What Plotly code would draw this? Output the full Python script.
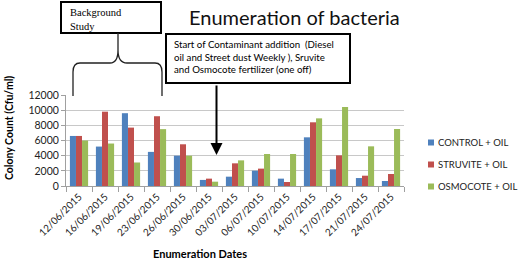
import plotly.graph_objects as go

dates = ["12/06/2015", "16/06/2015", "19/06/2015", "23/06/2015", "26/06/2015",
         "30/06/2015", "03/07/2015", "06/07/2015", "10/07/2015", "14/07/2015",
         "17/07/2015", "21/07/2015", "24/07/2015"]
control_oil = [6600, 5200, 9600, 4500, 4000, 800, 1230, 2020, 970, 6420, 2200, 1050, 660]
struvite_oil = [6600, 9800, 7700, 9200, 5500, 970, 2990, 2290, 530, 8400, 4040, 1360, 1580]
osmocote_oil = [6000, 5600, 3100, 7500, 4000, 570, 3380, 4220, 4220, 8920, 10420, 5230, 7520]
series_names = ["CONTROL + OIL", "STRUVITE + OIL", "OSMOCOTE + OIL"]
colors = ["#4F81BD", "#C0504D", "#9BBB59"]

W, H = 520, 267
L, R, T, B = 66, 116, 95, 81
PW, PH = W - L - R, H - T - B


def px(x):
    return (x - L) / PW


def py(y):
    return (H - B - y) / PH


FONT = "Lato"

fig = go.Figure()
for name, vals, c in zip(series_names, [control_oil, struvite_oil, osmocote_oil], colors):
    fig.add_trace(go.Bar(x=dates, y=vals, name=name, marker_color=c,
                         marker_line_width=0, showlegend=False))

shapes = []
annotations = []

# manual legend (Excel style: small square + label)
for i, (name, c) in enumerate(zip(series_names, colors)):
    cy = 142.5 + 22 * i
    shapes.append(dict(type="rect", xref="paper", yref="paper",
                       x0=px(428), x1=px(434), y0=py(cy + 3), y1=py(cy - 3),
                       line=dict(width=0), fillcolor=c))
    annotations.append(dict(text=name, xref="paper", yref="paper",
                            x=px(436), y=py(cy), xanchor="left", yanchor="middle",
                            showarrow=False,
                            font=dict(family=FONT, size=9.5, color="#222222")))

# Background Study box
shapes.append(dict(type="rect", xref="paper", yref="paper",
                   x0=px(61), x1=px(161), y0=py(33), y1=py(2),
                   line=dict(color="black", width=2), fillcolor="white"))
# Contaminant box
shapes.append(dict(type="rect", xref="paper", yref="paper",
                   x0=px(166), x1=px(350), y0=py(83), y1=py(34),
                   line=dict(color="black", width=2), fillcolor="white"))
# curly brace
pts = [
    f"M{px(73)},{py(96)}",
    f"L{px(73)},{py(72)}",
    f"Q{px(73)},{py(63)} {px(80)},{py(63)}",
    f"L{px(110)},{py(63)}",
    f"Q{px(118)},{py(63)} {px(118)},{py(50)}",
    f"L{px(118)},{py(33)}",
    f"M{px(118)},{py(50)}",
    f"Q{px(118)},{py(63)} {px(127)},{py(63)}",
    f"L{px(155)},{py(63)}",
    f"Q{px(162)},{py(63)} {px(162)},{py(72)}",
    f"L{px(162)},{py(96)}",
]
shapes.append(dict(type="path", xref="paper", yref="paper", path=" ".join(pts),
                   line=dict(color="#222222", width=1.3)))

annotations += [
    dict(text="Enumeration of bacteria", xref="paper", yref="paper",
         x=px(294), y=py(17), xanchor="center", yanchor="middle", showarrow=False,
         font=dict(family=FONT, size=20, color="#111111")),
    dict(text="Background<br>Study", xref="paper", yref="paper",
         x=px(68), y=py(5), xanchor="left", yanchor="top", showarrow=False, align="left",
         font=dict(family="Liberation Serif", size=10.5, color="black")),
    dict(text="Start of Contaminant addition  (Diesel<br>oil and Street dust Weekly ), Sruvite<br>and Osmocote fertilizer (one off)",
         xref="paper", yref="paper",
         x=px(172), y=py(36), xanchor="left", yanchor="top", showarrow=False, align="left",
         font=dict(family=FONT, size=9.7, color="black")),
    dict(text="", xref="paper", yref="paper", x=px(216.5), y=py(155),
         ax=0, ay=-71, showarrow=True, arrowhead=2, arrowsize=1.2, arrowwidth=2,
         arrowcolor="black"),
    dict(text="<b>Colony Count (Cfu/ml)</b>", xref="paper", yref="paper",
         x=px(9), y=py(128), xanchor="center", yanchor="middle", textangle=-90,
         showarrow=False, font=dict(family=FONT, size=10.5, color="black")),
    dict(text="<b>Enumeration Dates</b>", xref="paper", yref="paper",
         x=px(200), y=py(253), xanchor="center", yanchor="middle",
         showarrow=False, font=dict(family=FONT, size=11, color="black")),
]

fig.update_layout(
    width=W, height=H,
    margin=dict(l=L, r=R, t=T, b=B, autoexpand=False),
    paper_bgcolor="white", plot_bgcolor="white",
    barmode="group", bargap=0.3, bargroupgap=0,
    font=dict(family=FONT, size=10, color="#222222"),
    showlegend=False,
    shapes=shapes,
    annotations=annotations,
)
fig.update_xaxes(showline=True, linecolor="#A0A0A0", linewidth=1,
                 ticks="outside", tickson="boundaries", ticklen=5, tickcolor="#A0A0A0",
                 tickangle=-45, tickfont=dict(family=FONT, size=10, color="#222222"),
                 showgrid=False)
fig.update_yaxes(range=[0, 12000], dtick=2000, tickformat="d", showline=True,
                 linecolor="#A0A0A0",
                 ticks="outside", ticklen=4, tickcolor="#A0A0A0",
                 gridcolor="#C8C8C8", gridwidth=1, zeroline=False,
                 tickfont=dict(family=FONT, size=10.5, color="#222222"))

fig.write_html("out.html", config={"displayModeBar": False},
               post_script="document.body.style.margin='0';document.body.style.overflow='hidden';")
